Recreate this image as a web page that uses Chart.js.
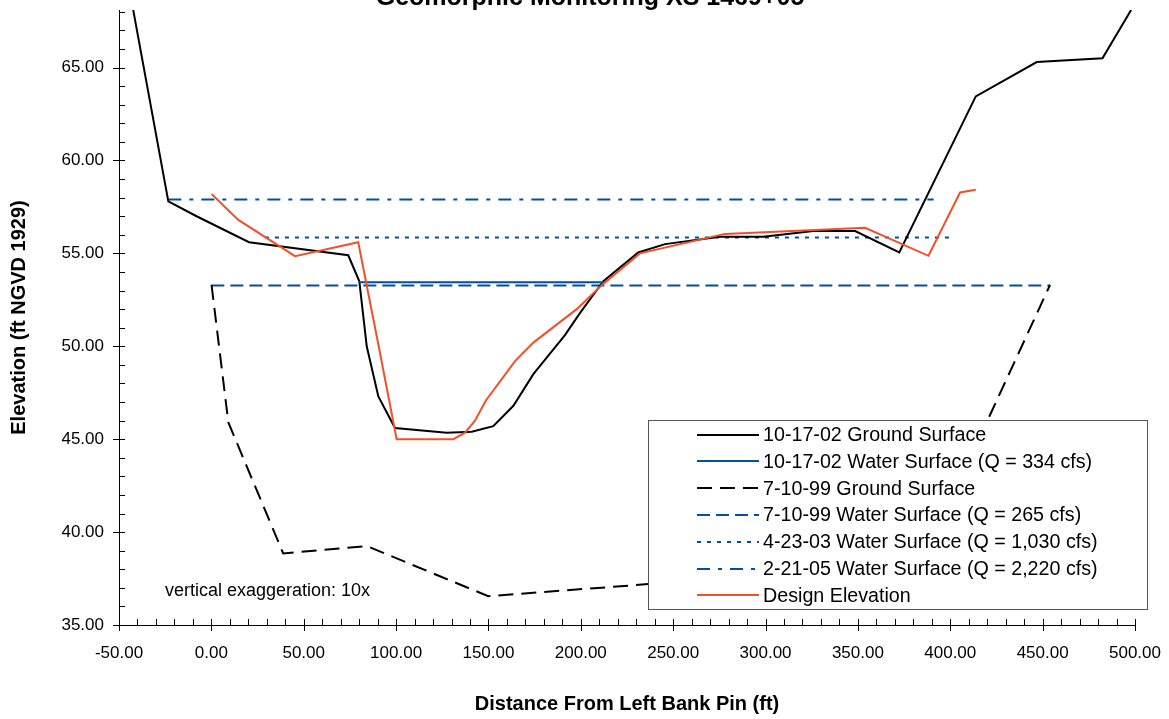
<!DOCTYPE html>
<html>
<head>
<meta charset="utf-8">
<script src="https://cdn.jsdelivr.net/npm/chart.js@4.4.0/dist/chart.umd.min.js"></script>
<style>
    body { margin: 0; background: #ffffff; }
    canvas { display: block; }
</style>
</head>
<body>
<canvas id="xs_chart" width="1169" height="719"></canvas>
<script>
// Distance from left bank pin (ft) / elevation (ft NGVD 1929)
const ground_021017_x = [-42.3, -23.3, -8.0, 20.4, 74.1, 80.1, 84.1, 90.4, 99.4, 127.4, 141.0, 152.6, 163.5, 174.3, 191.4, 199.6, 212.2, 231.1, 245.6, 275.3, 298.8, 325.9, 348.5, 372.4, 413.8, 446.8, 482.4, 497.9];
const ground_021017_y = [68.1, 57.8, 57.0, 55.6, 54.9, 53.5, 50.0, 47.3, 45.6, 45.35, 45.4, 45.7, 46.8, 48.5, 50.6, 51.8, 53.5, 55.05, 55.5, 55.9, 55.9, 56.2, 56.2, 55.05, 63.45, 65.3, 65.5, 68.1];

const water_021017_x = [80.1, 212.2];
const water_021017_y = [53.45, 53.45];

const ground_990710_x = [0.1, 9.2, 38.9, 84.1, 149.9, 236.5, 385.0, 420.1, 454.0];
const ground_990710_y = [53.3, 45.9, 38.85, 39.25, 36.55, 37.2, 37.6, 46.0, 53.3];

const water_990710_x = [0.0, 454.0];
const water_990710_y = [53.27, 53.27];

const water_030423_x = [29.0, 399.3];
const water_030423_y = [55.85, 55.85];

const water_050221_x = [-23.3, 391.0];
const water_050221_y = [57.9, 57.9];

const design_x = [0.1, 14.6, 45.3, 79.5, 90.4, 100.3, 131.0, 137.3, 142.7, 148.7, 164.4, 174.3, 197.8, 210.4, 232.0, 278.0, 353.9, 388.2, 405.3, 413.8];
const design_y = [58.2, 56.8, 54.85, 55.6, 50.1, 45.0, 45.0, 45.35, 46.0, 47.1, 49.2, 50.2, 52.0, 53.2, 55.0, 56.05, 56.38, 54.87, 58.28, 58.42];

const series_labels = [
    "10-17-02 Ground Surface",
    "10-17-02 Water Surface (Q = 334 cfs)",
    "7-10-99 Ground Surface",
    "7-10-99 Water Surface (Q = 265 cfs)",
    "4-23-03 Water Surface (Q = 1,030 cfs)",
    "2-21-05 Water Surface (Q = 2,220 cfs)",
    "Design Elevation"
];

const x_ticks = [-50, 0, 50, 100, 150, 200, 250, 300, 350, 400, 450, 500];
const y_ticks = [35, 40, 45, 50, 55, 60, 65];

const chart_title = "Geomorphic Monitoring XS 1469+05";
const note_text = "vertical exaggeration: 10x";

const BLUE = '#004fa0';
const RED = '#f2502a';
const FONT = "Arial, 'Liberation Sans', sans-serif";

function to_points(xs, ys) {
    return xs.map((x, i) => ({ x: x, y: ys[i] }));
}

function make_series(label, xs, ys, color, dash, order) {
    return {
        label: label,
        data: to_points(xs, ys),
        borderColor: color,
        backgroundColor: color,
        borderWidth: 2,
        borderDash: dash,
        pointRadius: 0,
        showLine: true,
        tension: 0,
        order: order
    };
}

// minor / major tick marks like the spreadsheet axis
const tick_marks = {
    id: 'tick_marks',
    afterDraw(chart) {
        const ctx = chart.ctx;
        const xs = chart.scales.x;
        const ys = chart.scales.y;
        const area = chart.chartArea;
        ctx.save();
        ctx.strokeStyle = '#000';
        ctx.lineWidth = 1;
        ctx.beginPath();
        for (let v = -50; v <= 500; v += 10) {
            const px = Math.round(xs.getPixelForValue(v)) + 0.5;
            const major = v % 50 === 0;
            ctx.moveTo(px, area.bottom - 6);
            ctx.lineTo(px, area.bottom + (major ? 6 : 0));
        }
        for (let v = 35; v <= 68; v += 1) {
            const py = Math.round(ys.getPixelForValue(v)) + 0.5;
            const major = v % 5 === 0;
            ctx.moveTo(area.left + 6, py);
            ctx.lineTo(area.left - (major ? 6 : 0), py);
        }
        ctx.stroke();
        ctx.restore();
    }
};

// title (cut at top edge), note and boxed legend
const decorations = {
    id: 'decorations',
    afterDraw(chart) {
        const ctx = chart.ctx;
        ctx.save();
        ctx.fillStyle = '#000';
        ctx.textAlign = 'center';
        ctx.textBaseline = 'alphabetic';
        ctx.font = "bold 25px " + FONT;
        ctx.fillText(chart_title, 590, 5);

        ctx.textAlign = 'left';
        ctx.textBaseline = 'middle';
        ctx.font = "18px " + FONT;
        ctx.fillText(note_text, 165, 591);

        // legend box
        const box = { left: 648.5, top: 420.5, right: 1147.5, bottom: 609.5 };
        ctx.fillStyle = '#fff';
        ctx.fillRect(box.left, box.top, box.right - box.left, box.bottom - box.top);
        ctx.strokeStyle = '#555';
        ctx.lineWidth = 1;
        ctx.strokeRect(box.left, box.top, box.right - box.left, box.bottom - box.top);

        ctx.font = "19.7px " + FONT;
        const legend_sets = chart.data.datasets.slice().sort((a, b) => a.legendIndex - b.legendIndex);
        legend_sets.forEach((ds, i) => {
            const y = 434.5 + i * 26.8;
            ctx.beginPath();
            ctx.strokeStyle = ds.borderColor;
            ctx.lineWidth = 2;
            ctx.setLineDash(ds.borderDash || []);
            ctx.moveTo(697, Math.round(y));
            ctx.lineTo(759, Math.round(y));
            ctx.stroke();
            ctx.setLineDash([]);
            ctx.fillStyle = '#000';
            ctx.fillText(ds.label, 763, y + 1);
        });
        ctx.restore();
    }
};

const datasets = [
    make_series(series_labels[0], ground_021017_x, ground_021017_y, '#000', [], 2),
    make_series(series_labels[1], water_021017_x, water_021017_y, BLUE, [], 1),
    make_series(series_labels[2], ground_990710_x, ground_990710_y, '#000', [15, 8], 3),
    make_series(series_labels[3], water_990710_x, water_990710_y, BLUE, [13, 6], 4),
    make_series(series_labels[4], water_030423_x, water_030423_y, BLUE, [4, 6], 5),
    make_series(series_labels[5], water_050221_x, water_050221_y, BLUE, [13, 8, 4, 8], 6),
    make_series(series_labels[6], design_x, design_y, RED, [], 0)
];
datasets.forEach((ds, i) => { ds.legendIndex = i; });

const canvas = document.getElementById('xs_chart').getContext('2d');
const config = {
    type: 'scatter',
    data: { datasets: datasets },
    options: {
        responsive: false,
        animation: false,
        devicePixelRatio: 1,
        layout: { padding: { top: 10, right: 34, left: 0, bottom: 0 } },
        plugins: {
            legend: { display: false },
            tooltip: { enabled: false },
            title: { display: false }
        },
        scales: {
            x: {
                type: 'linear',
                min: -50,
                max: 500,
                grid: { display: false },
                border: { display: true, color: '#000', width: 1 },
                afterFit: (scale) => {
                    scale.height = 94;
                    scale.paddingLeft = 0;
                    scale.paddingRight = 0;
                },
                afterBuildTicks: (scale) => { scale.ticks = x_ticks.map(v => ({ value: v })); },
                ticks: {
                    color: '#000',
                    padding: 10,
                    maxRotation: 0,
                    autoSkip: false,
                    font: { family: FONT, size: 17 },
                    callback: (v) => Number(v).toFixed(2)
                },
                title: {
                    display: true,
                    text: 'Distance From Left Bank Pin (ft)',
                    color: '#000',
                    font: { family: FONT, size: 20, weight: 'bold' },
                    padding: { top: 0, bottom: 3 }
                }
            },
            y: {
                type: 'linear',
                min: 35,
                max: 68.1,
                grid: { display: false },
                border: { display: true, color: '#000', width: 1 },
                afterFit: (scale) => {
                    scale.width = 119;
                    scale.paddingTop = 0;
                    scale.paddingBottom = 0;
                },
                afterBuildTicks: (scale) => { scale.ticks = y_ticks.map(v => ({ value: v })); },
                ticks: {
                    color: '#000',
                    padding: 7,
                    autoSkip: false,
                    font: { family: FONT, size: 17 },
                    callback: (v) => Number(v).toFixed(2)
                },
                title: {
                    display: true,
                    text: 'Elevation (ft NGVD 1929)',
                    color: '#000',
                    font: { family: FONT, size: 20, weight: 'bold' },
                    padding: { top: 7, bottom: 0 }
                }
            }
        }
    },
    plugins: [tick_marks, decorations]
};

const xs_chart = new Chart(canvas, config);
</script>
</body>
</html>
